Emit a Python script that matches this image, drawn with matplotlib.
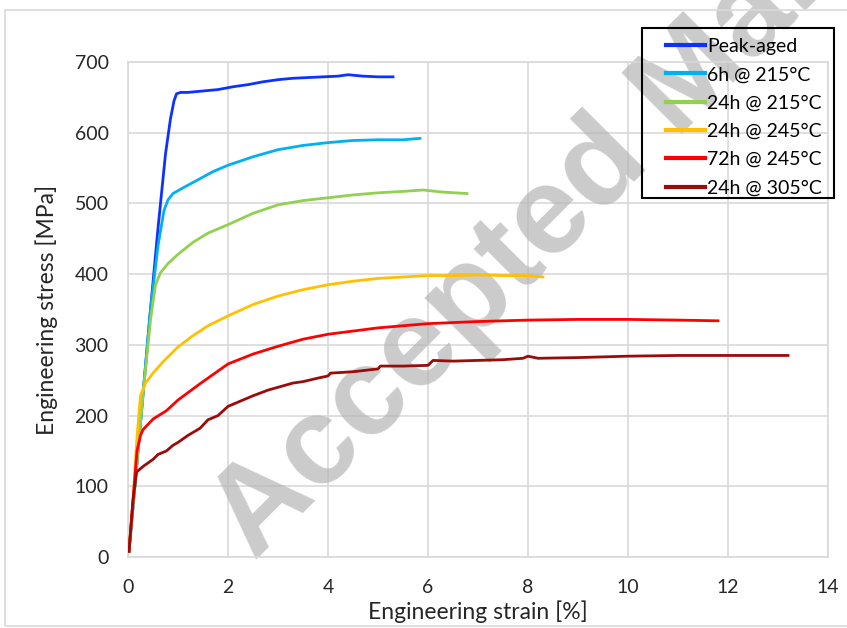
import matplotlib
matplotlib.use('Agg')
import matplotlib.pyplot as plt
from matplotlib.patches import Rectangle

plt.rcParams['font.family'] = ['Lato', 'DejaVu Sans']

# stress-strain curves
peak_strain = [0.02, 0.15, 0.3, 0.45, 0.6, 0.75, 0.85, 0.92, 0.97, 1.05, 1.2, 1.5, 1.8,
               2.1, 2.4, 2.7, 3.0, 3.3, 3.6, 3.9, 4.2, 4.4, 4.7, 5.0, 5.3]
peak_stress = [8, 110, 230, 350, 465, 570, 620, 645, 655, 657, 657, 659, 661,
               665, 668, 672, 675, 677, 678, 679, 680, 682, 680, 679, 679]

h6_215_strain = [0.02, 0.15, 0.3, 0.45, 0.6, 0.72, 0.8, 0.9, 1.1, 1.44, 1.7, 2.0, 2.5,
                 3.0, 3.5, 4.0, 4.5, 5.0, 5.5, 5.84]
h6_215_stress = [8, 110, 230, 350, 440, 490, 505, 514, 522, 535, 545, 554, 566,
                 576, 582, 586, 589, 590, 590, 592]

h24_215_strain = [0.02, 0.15, 0.3, 0.45, 0.55, 0.65, 0.8, 1.0, 1.3, 1.6, 2.0, 2.5, 3.0,
                  3.5, 4.0, 4.5, 5.0, 5.5, 5.9, 6.3, 6.78]
h24_215_stress = [8, 110, 230, 335, 385, 402, 415, 428, 445, 458, 470, 486, 498,
                  504, 508, 512, 515, 517, 519, 516, 514]

h24_245_strain = [0.02, 0.1, 0.18, 0.25, 0.35, 0.5, 0.7, 1.0, 1.3, 1.6, 2.0, 2.5, 3.0,
                  3.5, 4.0, 4.5, 5.0, 5.5, 6.0, 6.5, 7.0, 7.5, 8.0, 8.3]
h24_245_stress = [8, 80, 170, 228, 246, 260, 276, 297, 313, 327, 341, 357, 369,
                  378, 385, 390, 394, 396, 398, 398, 399, 398, 398, 396]

h72_245_strain = [0.02, 0.1, 0.18, 0.25, 0.3, 0.5, 0.77, 1.0, 1.44, 2.0, 2.5, 3.0, 3.5,
                  4.0, 5.0, 6.0, 7.0, 8.0, 9.0, 10.0, 11.0, 11.8]
h72_245_stress = [8, 80, 150, 172, 180, 195, 207, 222, 245, 273, 287, 298, 308,
                  315, 324, 330, 333, 335, 336, 336, 335, 334]

h24_305_strain = [0.02, 0.1, 0.17, 0.3, 0.5, 0.6, 0.77, 0.9, 1.0, 1.2, 1.44, 1.6, 1.8,
                  2.0, 2.3, 2.5, 2.8, 3.0, 3.3, 3.5, 3.8, 4.0, 4.05, 4.5, 5.0, 5.05,
                  5.5, 6.0, 6.1, 6.5, 7.0, 7.5, 7.9, 8.0, 8.2, 9.0, 10.0, 11.0, 12.0, 13.2]
h24_305_stress = [8, 80, 120, 128, 138, 145, 150, 158, 162, 172, 182, 194, 200,
                  213, 222, 228, 236, 240, 246, 248, 253, 256, 260, 262, 266, 270,
                  270, 271, 278, 277, 278, 279, 281, 284, 281, 282, 284, 285, 285, 285]

labels = ['Peak-aged', '6h @ 215°C', '24h @ 215°C', '24h @ 245°C', '72h @ 245°C', '24h @ 305°C']
colors = ['#0d32ff', '#00b0f0', '#92d050', '#ffc000', '#ff0000', '#9c0a0a']
curves = [(peak_strain, peak_stress), (h6_215_strain, h6_215_stress),
          (h24_215_strain, h24_215_stress), (h24_245_strain, h24_245_stress),
          (h72_245_strain, h72_245_stress), (h24_305_strain, h24_305_stress)]

fig = plt.figure(figsize=(8.47, 6.28), dpi=100)
ax = fig.add_axes([128/847, 1 - 557/628, 700/847, 495/628])

# outer chart border
fig.patches.append(Rectangle((5/847, 2/628), 1.2, 1 - 12/628, transform=fig.transFigure,
                             fill=False, edgecolor='#d9d9d9', linewidth=1.2))

for (x, y), lab, c in zip(curves, labels, colors):
    ax.plot(x, y, color=c, linewidth=2.0, label=lab, zorder=3)

ax.set_xlim(0, 14)
ax.set_ylim(0, 700)
ax.set_xticks(range(0, 15, 2))
ax.set_yticks(range(0, 701, 100))
ax.grid(True, color='#d9d9d9', linewidth=1.2)
ax.set_axisbelow(True)
for s in ax.spines.values():
    s.set_color('#d9d9d9')
    s.set_linewidth(1.2)
ax.tick_params(length=0, labelsize=14, colors='#262626')
ax.tick_params(axis='x', pad=16)
ax.tick_params(axis='y', pad=14)
ax.set_xlabel('Engineering strain [%]', fontsize=16.5, color='#262626', labelpad=3)
ax.set_ylabel('Engineering stress [MPa]', fontsize=16.5, color='#262626', labelpad=12)

# legend box drawn separately so its padding matches the reference
ax.add_patch(Rectangle((514/700, 359/495), 192/700, 170/495, transform=ax.transAxes,
                       fill=False, edgecolor='black', linewidth=1.5, clip_on=False, zorder=5))
leg = ax.legend(loc='upper left', bbox_to_anchor=(538/700, 1 + 24/495), borderaxespad=0,
                borderpad=0, fontsize=14, frameon=False, handlelength=2.0,
                handletextpad=0.1, labelspacing=0.58)
for line in leg.get_lines():
    line.set_linewidth(3)

# watermark
ax.text(255/847, 1 - 562/628, 'Accepted Manuscript', transform=fig.transFigure,
        fontsize=90, fontweight='bold', family='Liberation Sans', color='#b5b5b5',
        alpha=0.7, rotation=45, rotation_mode='anchor', ha='left', va='baseline',
        clip_on=False, zorder=1)

fig.savefig('out.png', dpi=100)
